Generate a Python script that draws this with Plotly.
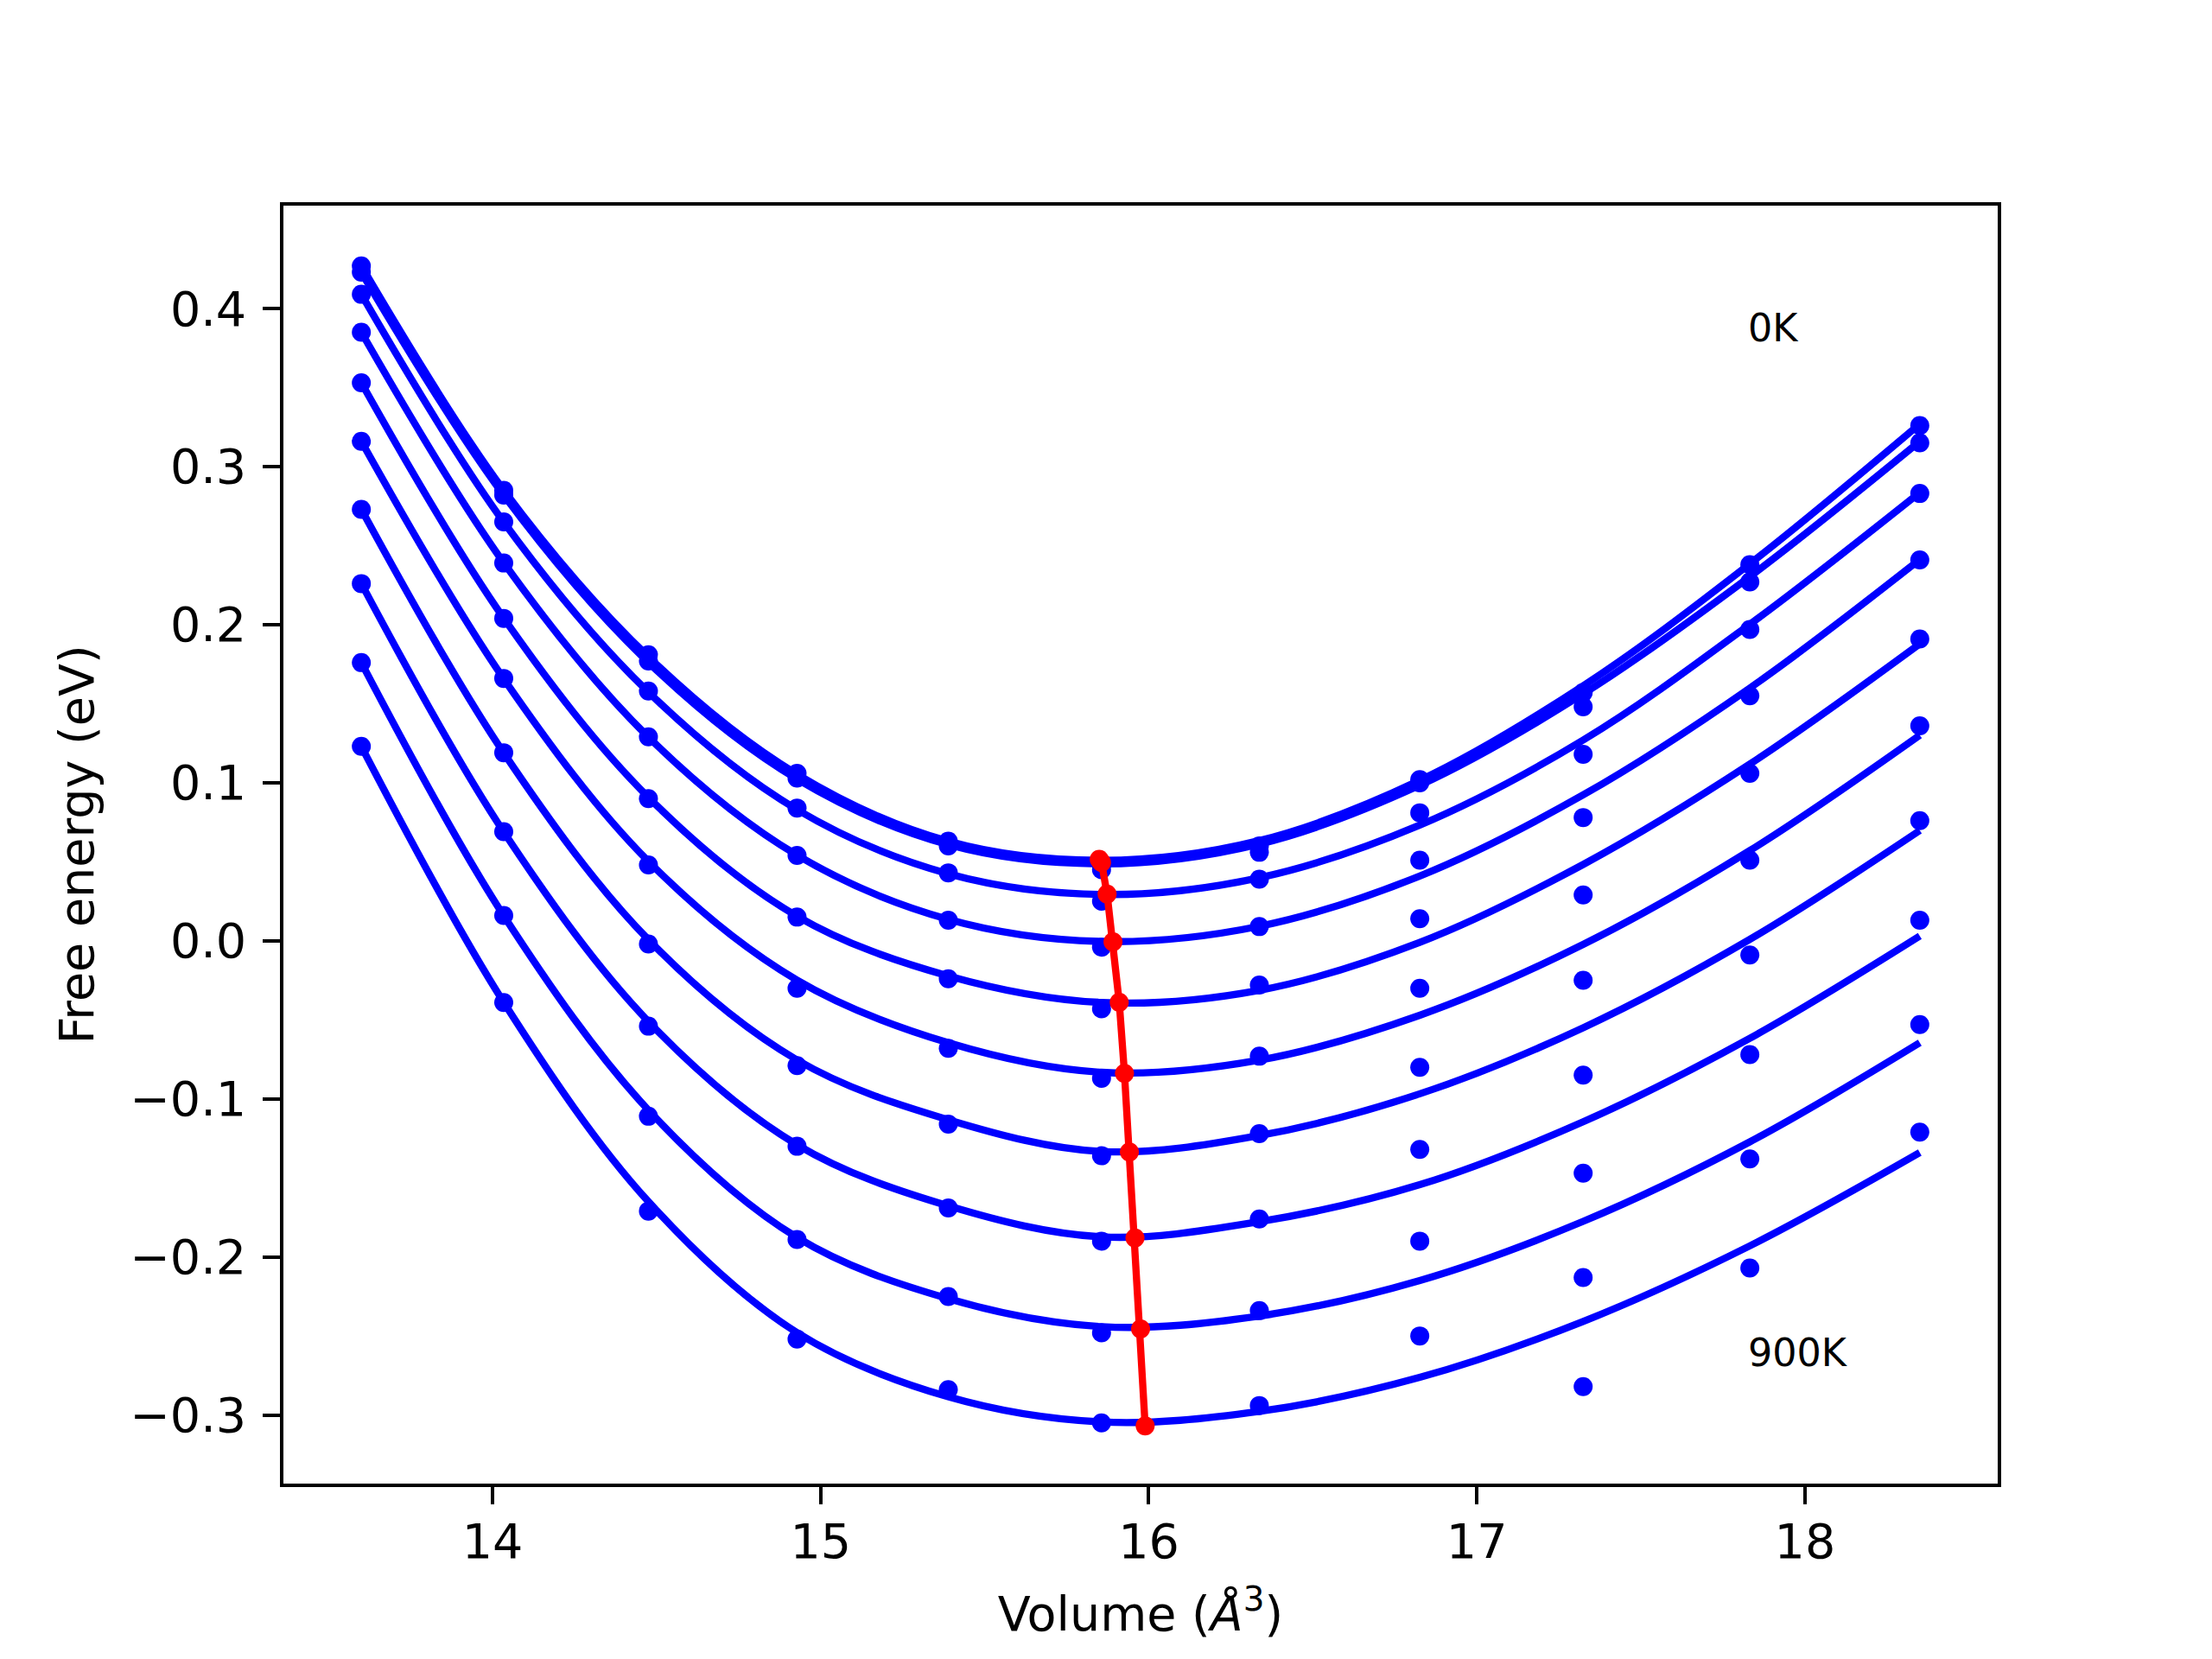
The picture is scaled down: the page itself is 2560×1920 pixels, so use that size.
import plotly.graph_objects as go

# --- data ----------------------------------------------------------------
temps = ["0K", "100K", "200K", "300K", "400K", "500K", "600K", "700K", "800K", "900K"]

volumes = [13.600, 14.034, 14.475, 14.928, 15.389, 15.856, 16.337, 16.826, 17.324, 17.832, 18.350]

# computed free energies (dots), one row per temperature
e_0K   = [0.427, 0.285, 0.181, 0.106, 0.063, 0.048, 0.060, 0.102, 0.157, 0.238, 0.326]
e_100K = [0.423, 0.282, 0.177, 0.103, 0.060, 0.045, 0.056, 0.100, 0.148, 0.227, 0.315]
e_200K = [0.409, 0.265, 0.158, 0.084, 0.043, 0.025, 0.039, 0.081, 0.118, 0.197, 0.283]
e_300K = [0.385, 0.239, 0.129, 0.054, 0.013, -0.004, 0.009, 0.051, 0.078, 0.155, 0.241]
e_400K = [0.353, 0.204, 0.090, 0.015, -0.024, -0.043, -0.028, 0.014, 0.029, 0.106, 0.191]
e_500K = [0.316, 0.166, 0.048, -0.030, -0.068, -0.087, -0.073, -0.030, -0.025, 0.051, 0.136]
e_600K = [0.273, 0.119, -0.002, -0.079, -0.116, -0.136, -0.122, -0.080, -0.085, -0.009, 0.076]
e_700K = [0.226, 0.069, -0.054, -0.130, -0.169, -0.190, -0.176, -0.132, -0.147, -0.072, 0.013]
e_800K = [0.176, 0.016, -0.111, -0.189, -0.225, -0.248, -0.234, -0.190, -0.213, -0.138, -0.053]
e_900K = [0.123, -0.039, -0.171, -0.252, -0.284, -0.305, -0.294, -0.250, -0.282, -0.207, -0.121]

dots = [e_0K, e_100K, e_200K, e_300K, e_400K, e_500K, e_600K, e_700K, e_800K, e_900K]

# fitted curves, read at the same volumes
f_0K   = [0.427, 0.2851, 0.1797, 0.1054, 0.0630, 0.0509, 0.0634, 0.1015, 0.1613, 0.2385, 0.3270]
f_100K = [0.423, 0.2819, 0.1761, 0.1023, 0.0608, 0.0487, 0.0612, 0.0984, 0.1562, 0.2304, 0.3160]
f_200K = [0.409, 0.2649, 0.1573, 0.0830, 0.0424, 0.0293, 0.0399, 0.0732, 0.1270, 0.2002, 0.2836]
f_300K = [0.385, 0.2392, 0.1289, 0.0542, 0.0136, -0.0004, 0.0092, 0.0410, 0.0923, 0.1599, 0.2412]
f_400K = [0.353, 0.2041, 0.0908, 0.0156, -0.0222, -0.0390, -0.0313, -0.0010, 0.0483, 0.1118, 0.1879]
f_500K = [0.316, 0.1658, 0.0503, -0.0249, -0.0645, -0.0832, -0.0755, -0.0471, -0.0023, 0.0571, 0.1301]
f_600K = [0.273, 0.1189, 0.0007, -0.0754, -0.1132, -0.1333, -0.1232, -0.0968, -0.0550, 0.0009, 0.0698]
f_700K = [0.226, 0.0689, -0.0511, -0.1290, -0.1677, -0.1873, -0.1777, -0.1543, -0.1145, -0.0617, 0.0030]
f_800K = [0.176, 0.0159, -0.1071, -0.1877, -0.2264, -0.2441, -0.2374, -0.2149, -0.1775, -0.1272, -0.0645]
f_900K = [0.123, -0.0389, -0.1650, -0.2479, -0.2885, -0.3044, -0.2977, -0.2762, -0.2408, -0.1930, -0.1340]

fits = [f_0K, f_100K, f_200K, f_300K, f_400K, f_500K, f_600K, f_700K, f_800K, f_900K]

# equilibrium point of every fitted curve (red line)
v_min = [15.849, 15.856, 15.873, 15.891, 15.910, 15.926, 15.941, 15.958, 15.975, 15.989]
e_min = [0.0515, 0.0495, 0.0296, -0.0007, -0.0389, -0.0839, -0.1336, -0.1880, -0.2455, -0.3069]

x_ticks = [14, 15, 16, 17, 18]
y_ticks = [-0.3, -0.2, -0.1, 0.0, 0.1, 0.2, 0.3, 0.4]
y_ticktext = ["\u22120.3", "\u22120.2", "\u22120.1", "0.0", "0.1", "0.2", "0.3", "0.4"]

# --- styles (matplotlib defaults at dpi 400) ------------------------------
BLUE = "#0000ff"
RED = "#ff0000"
FONT = "DejaVu Sans"
PT = 400 / 72

fig = go.Figure()

for i, t in enumerate(temps):
    fig.add_trace(go.Scatter(
        x=volumes, y=dots[i], mode="markers",
        marker=dict(color=BLUE, size=22, line=dict(width=0)),
        name=t, showlegend=False,
    ))
    fig.add_trace(go.Scatter(
        x=volumes, y=fits[i], mode="lines",
        line=dict(color=BLUE, width=1.5 * PT, shape="spline", smoothing=1.0),
        name=t + " fit", showlegend=False,
    ))

fig.add_trace(go.Scatter(
    x=v_min, y=e_min, mode="lines+markers",
    line=dict(color=RED, width=1.5 * PT),
    marker=dict(color=RED, size=22, line=dict(width=0)),
    name="minimum", showlegend=False,
))

fig.add_annotation(x=17.82, y=0.388, text="0K", showarrow=False,
                   xanchor="left", yanchor="middle", font=dict(size=8 * PT, color="black"))
fig.add_annotation(x=17.82, y=-0.2605, text="900K", showarrow=False,
                   xanchor="left", yanchor="middle", font=dict(size=8 * PT, color="black"))

axis_common = dict(
    showline=True, linecolor="black", linewidth=0.8 * PT, mirror=True,
    ticks="outside", ticklen=3.5 * PT, tickwidth=0.8 * PT, tickcolor="black",
    showgrid=False, zeroline=False,
    tickfont=dict(family=FONT, size=10 * PT, color="black"),
)

fig.update_layout(
    width=2560, height=1920,
    margin=dict(l=320, r=256, t=230, b=211),
    paper_bgcolor="white", plot_bgcolor="white",
    font=dict(family=FONT, size=10 * PT, color="black"),
    xaxis=dict(
        range=[13.3625, 18.5875], tickvals=x_ticks, ticktext=[str(v) for v in x_ticks],
        ticklabelstandoff=-4,
        title=dict(text="Volume (<i>\u00c5</i><sup>3</sup>)", standoff=34,
                   font=dict(family=FONT, size=10 * PT, color="black")),
        **axis_common,
    ),
    yaxis=dict(
        range=[-0.3434, 0.4651], tickvals=y_ticks, ticktext=y_ticktext,
        ticklabelstandoff=8,
        title=dict(text="Free energy (eV)", standoff=25,
                   font=dict(family=FONT, size=10 * PT, color="black")),
        **axis_common,
    ),
    hovermode=False,
)

fig.write_html("out.html")
